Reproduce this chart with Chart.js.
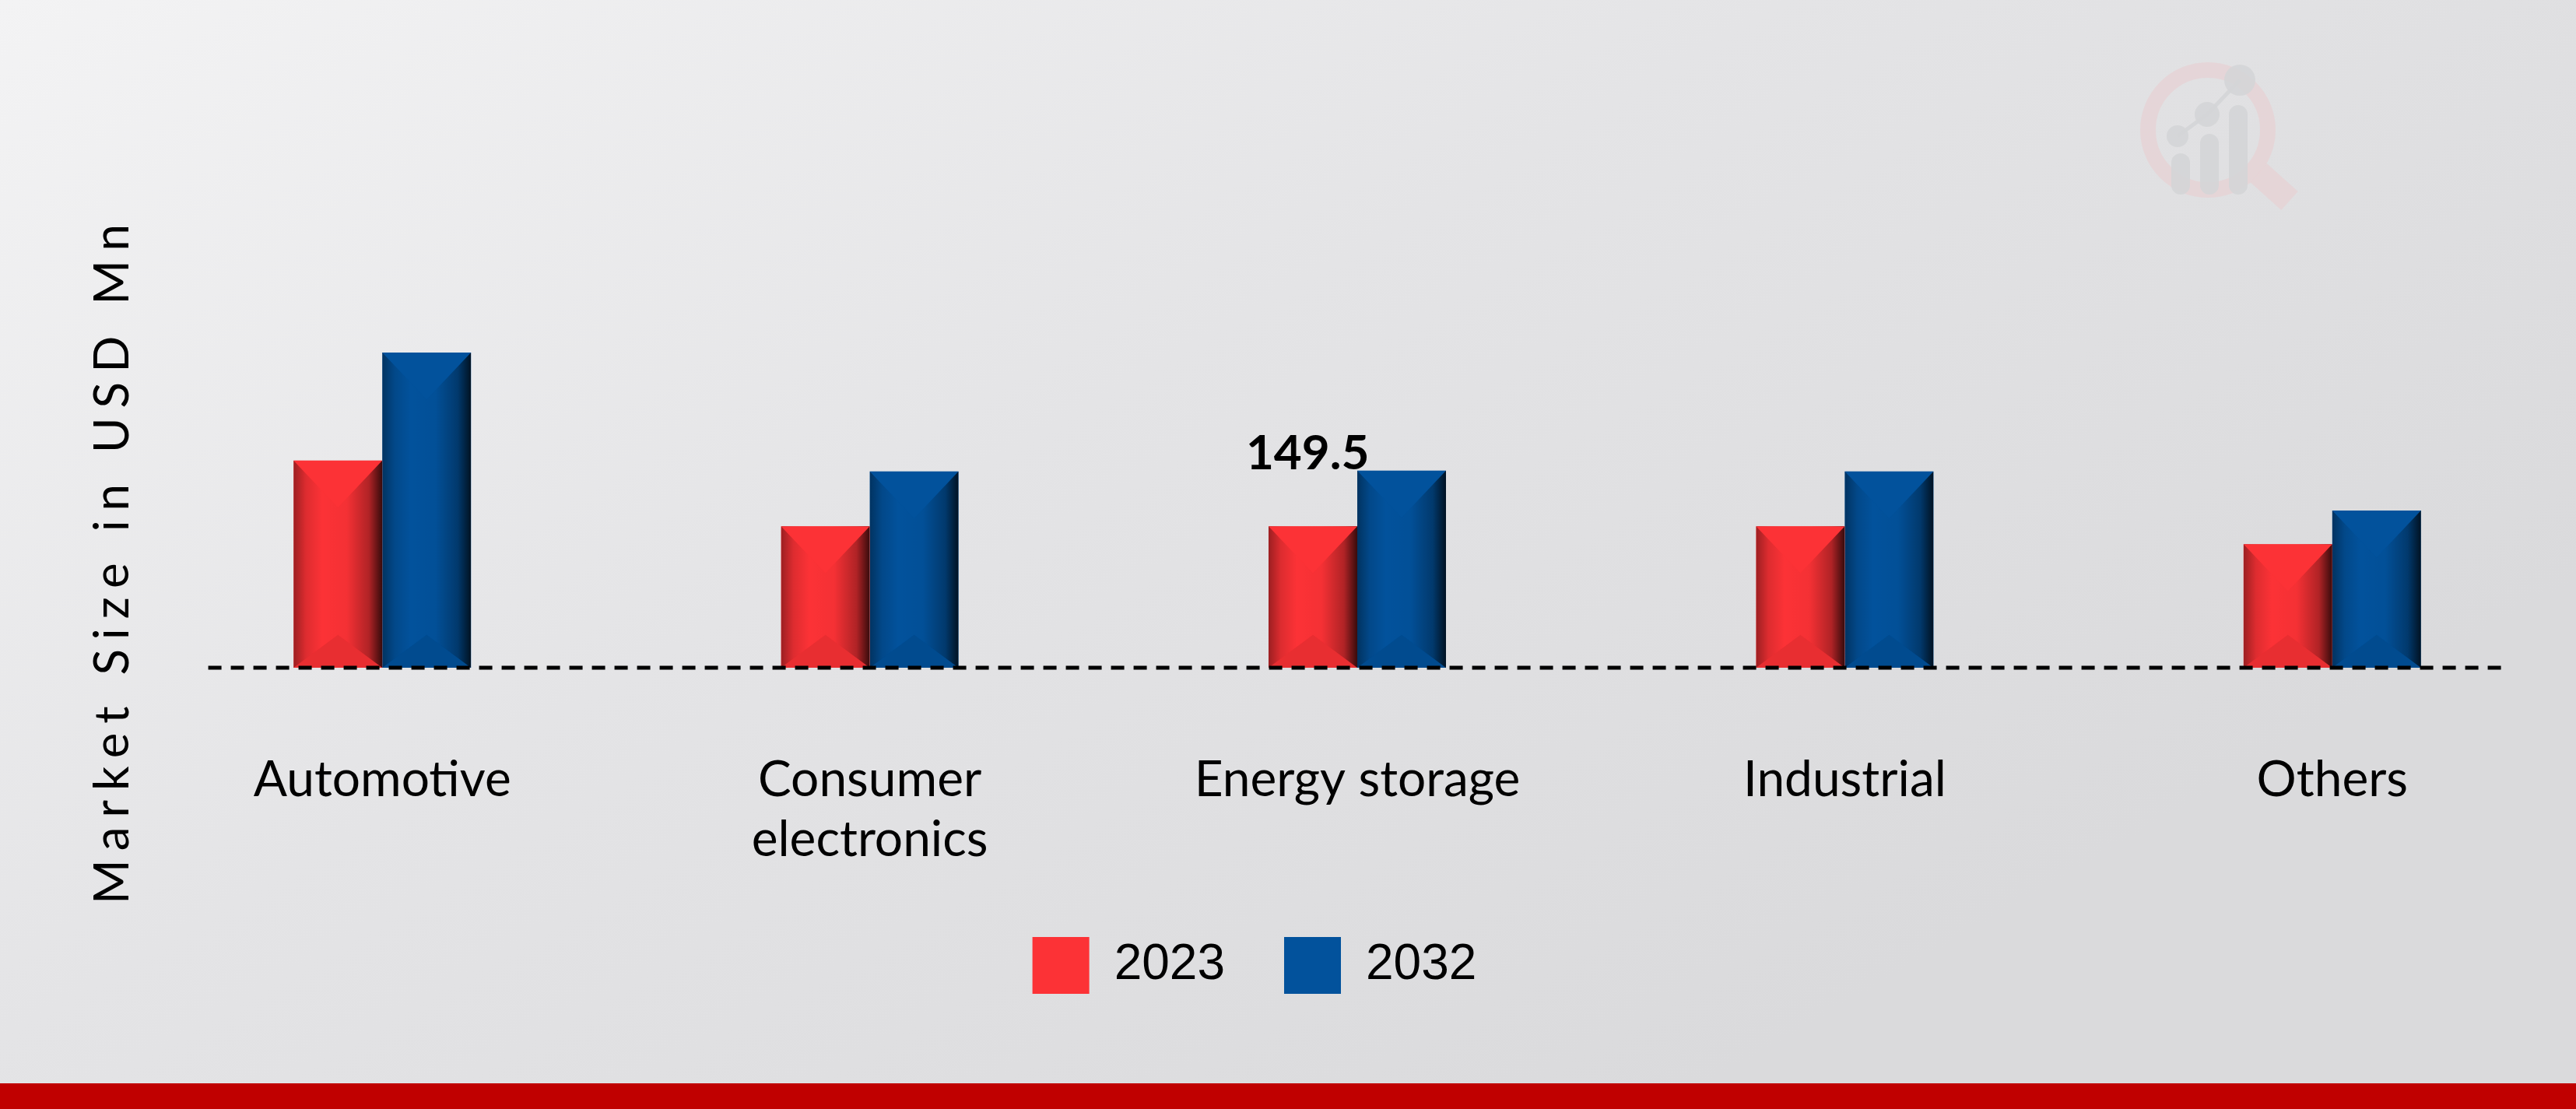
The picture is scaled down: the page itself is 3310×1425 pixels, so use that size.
<!DOCTYPE html>
<html>
<head>
<meta charset="utf-8">
<script src="https://cdn.jsdelivr.net/npm/chart.js@4"></script>
<style>
  html, body { margin: 0; padding: 0; overflow: hidden; background: #e6e6e8; }
  canvas { display: block; }
</style>
</head>
<body>
<canvas id="chart" width="3310" height="1425"></canvas>
<script>
// data
const categories = ['Automotive', ['Consumer', 'electronics'], 'Energy storage', 'Industrial', 'Others'];
const years = ['2023', '2032'];
const values2023 = [157.2, 107.4, 107.4, 107.4, 93.7];
const values2032 = [239.1, 148.9, 149.5, 148.9, 119.3];
const yMax = 450;
// only one bar has its value written on the chart
const shownLabel = { dataset: 1, index: 2 };

const RED = '#fc3236';
const BLUE = '#02529c';

const backdrop = {
  id: 'backdrop',
  beforeDraw(chart) {
    const { ctx, width, height } = chart;
    ctx.save();
    const g = ctx.createLinearGradient(0, 0, width * 0.35, height * 1.4);
    g.addColorStop(0, '#f3f3f4');
    g.addColorStop(0.5, '#e4e4e6');
    g.addColorStop(1, '#dadadc');
    ctx.fillStyle = g;
    ctx.fillRect(0, 0, width, height);
    // red band at the foot
    ctx.fillStyle = '#c00000';
    ctx.fillRect(0, height - 33, width, 33);

    // faded logo, top right
    ctx.globalAlpha = 0.9;
    ctx.strokeStyle = '#e6d4d6';
    ctx.lineWidth = 20;
    ctx.beginPath();
    ctx.arc(2837, 167, 77, 0, Math.PI * 2);
    ctx.stroke();
    ctx.lineWidth = 32;
    ctx.beginPath();
    ctx.moveTo(2902, 222);
    ctx.lineTo(2942, 258);
    ctx.stroke();
    ctx.fillStyle = '#d4d5d7';
    ctx.strokeStyle = '#d4d5d7';
    [[2790, 197], [2827, 172], [2864, 135]].forEach(([bx, by]) => {
      ctx.beginPath();
      ctx.roundRect(bx, by, 24, 250 - by, 12);
      ctx.fill();
    });
    ctx.lineWidth = 5;
    ctx.beginPath();
    ctx.moveTo(2798, 175); ctx.lineTo(2836, 147); ctx.lineTo(2878, 103);
    ctx.stroke();
    [[2798, 175, 14], [2836, 147, 16], [2878, 103, 20]].forEach(([cx, cy, r]) => {
      ctx.beginPath();
      ctx.arc(cx, cy, r, 0, Math.PI * 2);
      ctx.fill();
    });
    ctx.restore();

    // y title, spaced out like the original
    ctx.save();
    ctx.translate(145, 719);
    ctx.rotate(-Math.PI / 2);
    ctx.font = '62px Lato';
    ctx.letterSpacing = '12px';
    ctx.fillStyle = '#000';
    ctx.textAlign = 'center';
    ctx.textBaseline = 'middle';
    ctx.fillText('Market Size in USD Mn', 0, 0);
    ctx.restore();
  }
};

const bevel = {
  id: 'bevel',
  afterDatasetsDraw(chart) {
    const ctx = chart.ctx;
    chart.data.datasets.forEach((ds, di) => {
      chart.getDatasetMeta(di).data.forEach(bar => {
        const { x, y, base, width } = bar.getProps(['x', 'y', 'base', 'width'], true);
        const l = x - width / 2, r = x + width / 2, h = base - y;
        ctx.save();
        ctx.beginPath();
        ctx.rect(l, y, width, h);
        ctx.clip();
        const g = ctx.createLinearGradient(l, 0, r, 0);
        g.addColorStop(0, 'rgba(0,0,0,0.38)');
        g.addColorStop(0.14, 'rgba(0,0,0,0.12)');
        g.addColorStop(0.32, 'rgba(0,0,0,0)');
        g.addColorStop(0.6, 'rgba(0,0,0,0.03)');
        g.addColorStop(0.85, 'rgba(0,0,0,0.3)');
        g.addColorStop(1, 'rgba(0,0,0,0.78)');
        ctx.fillStyle = g;
        ctx.fillRect(l, y, width, h);
        const d = Math.min(width * 0.53, h / 2);
        ctx.fillStyle = ds.backgroundColor;
        ctx.beginPath();
        ctx.moveTo(l, y); ctx.lineTo(r, y); ctx.lineTo(x, y + d);
        ctx.closePath();
        ctx.fill();
        ctx.beginPath();
        ctx.moveTo(l, base); ctx.lineTo(r, base); ctx.lineTo(x, base - d * 0.7);
        ctx.closePath();
        ctx.fill();
        ctx.fillStyle = 'rgba(0,0,0,0.08)';
        ctx.fill();
        ctx.restore();
      });
    });

    // dashed zero line
    const xs = chart.scales.x, ys = chart.scales.y;
    const cat = xs.getPixelForValue(1) - xs.getPixelForValue(0);
    const y0 = ys.getPixelForValue(0);
    ctx.save();
    ctx.strokeStyle = '#000';
    ctx.lineWidth = 5;
    ctx.setLineDash([17, 12]);
    ctx.beginPath();
    ctx.moveTo(xs.getPixelForValue(0) - cat * 0.357, y0);
    ctx.lineTo(xs.getPixelForValue(categories.length - 1) + cat * 0.35, y0);
    ctx.stroke();
    ctx.restore();

    // the single value label
    const bar = chart.getDatasetMeta(shownLabel.dataset).data[shownLabel.index];
    const val = chart.data.datasets[shownLabel.dataset].data[shownLabel.index];
    ctx.save();
    ctx.font = 'bold 62px Lato';
    ctx.fillStyle = '#000';
    ctx.textAlign = 'center';
    ctx.textBaseline = 'alphabetic';
    ctx.fillText(String(val), bar.x - bar.width * 1.06, bar.y - 2);
    ctx.restore();
  }
};

new Chart(document.getElementById('chart'), {
  type: 'bar',
  data: {
    labels: categories,
    datasets: [
      { label: years[0], data: values2023, backgroundColor: RED, borderWidth: 0 },
      { label: years[1], data: values2032, backgroundColor: BLUE, borderWidth: 0 }
    ]
  },
  options: {
    responsive: false,
    animation: false,
    devicePixelRatio: 1,
    layout: { padding: { left: -89, right: -3, top: 96, bottom: 138 } },
    datasets: { bar: { categoryPercentage: 0.364, barPercentage: 1 } },
    scales: {
      x: {
        grid: { display: false, drawTicks: false },
        border: { display: false },
        ticks: {
          color: '#000',
          padding: 106,
          maxRotation: 0,
          autoSkip: false,
          font: { family: 'Lato', size: 64 }
        },
        afterFit: s => { s.height = 270; }
      },
      y: {
        min: 0,
        max: yMax,
        grid: { display: false, drawTicks: false },
        border: { display: false },
        ticks: { display: false },
        afterFit: s => { s.width = 267; }
      }
    },
    plugins: {
      tooltip: { enabled: false },
      legend: {
        position: 'bottom',
        labels: {
          boxWidth: 73,
          boxHeight: 73,
          padding: 76,
          color: '#000',
          font: { family: '"Liberation Sans", Arial, sans-serif', size: 64 }
        }
      }
    }
  },
  plugins: [backdrop, bevel]
});
</script>
</body>
</html>
